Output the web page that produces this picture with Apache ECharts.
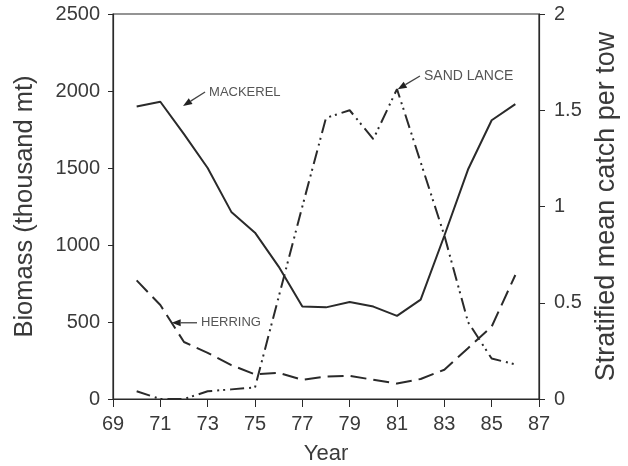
<!DOCTYPE html>
<html><head><meta charset="utf-8">
<script src="https://cdn.jsdelivr.net/npm/echarts@6/dist/echarts.min.js"></script>
<style>html,body{margin:0;padding:0;background:#fff}#c{width:628px;height:466px}</style>
</head><body><div id="c"></div>
<script>
const years = [70,71,72,73,74,75,76,77,78,79,80,81,82,83,84,85,86];
const mackerel = [1900,1930,1720,1500,1215,1080,860,600,595,630,600,540,645,1060,1490,1810,1915];
const herring = [770,610,370,300,220,160,170,125,145,150,125,100,130,190,330,470,805];
const sandLance = [0.04,0.0,0.0,0.04,0.05,0.06,0.53,1.0,1.46,1.5,1.35,1.61,1.23,0.85,0.4,0.21,0.18];
const xTicks = [69,71,73,75,77,79,81,83,85,87];
const leftTicks = [0,500,1000,1500,2000,2500];
const rightTicks = [0,0.5,1,1.5,2];
// annotation anchors in data space
const annotations = [
  {text:'MACKEREL', tip:[71.96,1903], tail:[72.89,1994], axis:0, size:13},
  {text:'SAND LANCE', tip:[81.03,1.609], tail:[81.97,1.678], axis:1, size:14},
  {text:'HERRING', tip:[71.48,495], tail:[72.55,495], axis:0, size:13}
];

const chart = echarts.init(document.getElementById('c'), null, {renderer:'canvas'});
const txt = '#3a3a3a', ln = '#2a2a2a';
const font = 'Liberation Sans, Arial, sans-serif';
function pairs(v){ return years.map((y,i)=>[y, v[i]]); }
chart.setOption({
  animation:false,
  grid:{left:113, right:89, top:14, bottom:67, show:true, borderColor:ln, borderWidth:1.2,
        containLabel:false, outerBoundsMode:'none'},
  xAxis:{type:'value', min:xTicks[0], max:xTicks[xTicks.length-1], interval:2,
    name:'Year', nameLocation:'middle', nameGap:44,
    nameTextStyle:{fontSize:22, color:txt, fontFamily:font},
    axisLine:{lineStyle:{color:ln, width:1.2}}, axisTick:{show:true, length:8, lineStyle:{color:ln}},
    axisLabel:{fontSize:20, color:txt, fontFamily:font, margin:15}, splitLine:{show:false}},
  yAxis:[
    {type:'value', min:leftTicks[0], max:leftTicks[leftTicks.length-1], interval:500,
     name:'Biomass (thousand mt)', nameLocation:'middle', nameGap:75,
     nameTextStyle:{fontSize:25.5, color:txt, fontFamily:font},
     axisLine:{show:true, lineStyle:{color:ln, width:1.2}}, axisTick:{show:true, length:5, lineStyle:{color:ln}},
     axisLabel:{fontSize:20, color:txt, fontFamily:font, margin:13, formatter:v=>String(v)}, splitLine:{show:false}},
    {type:'value', min:rightTicks[0], max:rightTicks[rightTicks.length-1], interval:0.5, position:'right',
     name:'Stratified mean catch per tow', nameLocation:'middle', nameGap:54,
     nameTextStyle:{fontSize:27, color:txt, fontFamily:font},
     axisLine:{show:true, lineStyle:{color:ln, width:1.2}}, axisTick:{show:true, length:6, lineStyle:{color:ln}},
     axisLabel:{fontSize:20, color:txt, fontFamily:font, margin:15, formatter:v=>String(v)}, splitLine:{show:false}}
  ],
  series:[
    {name:'Mackerel', type:'line', data:pairs(mackerel), showSymbol:false, symbol:'none',
     lineStyle:{color:ln, width:2, type:'solid'}},
    {name:'Herring', type:'line', data:pairs(herring), showSymbol:false, symbol:'none',
     lineStyle:{color:ln, width:2, type:[16,7]}},
    {name:'Sand lance', type:'line', yAxisIndex:1, data:pairs(sandLance), showSymbol:false, symbol:'none',
     lineStyle:{color:ln, width:2, type:[14,5,2,4,2,5]}}
  ]
});

const g = [];
annotations.forEach(a=>{
  const tip = chart.convertToPixel({xAxisIndex:0, yAxisIndex:a.axis}, a.tip);
  const tail = chart.convertToPixel({xAxisIndex:0, yAxisIndex:a.axis}, a.tail);
  const dx = tip[0]-tail[0], dy = tip[1]-tail[1], L = Math.hypot(dx,dy);
  const ux = dx/L, uy = dy/L, hl = 9, hw = 3.5;
  const bx = tip[0]-ux*hl, by = tip[1]-uy*hl;
  g.push({type:'line', shape:{x1:tail[0], y1:tail[1], x2:bx, y2:by}, style:{stroke:'#444', lineWidth:1.3}});
  g.push({type:'polygon', shape:{points:[[tip[0],tip[1]],[bx-uy*hw,by+ux*hw],[bx+uy*hw,by-ux*hw]]}, style:{fill:'#222'}});
  g.push({type:'text', x:tail[0]+4, y:tail[1], style:{text:a.text, fill:'#555', font:a.size+'px '+font, verticalAlign:'middle', align:'left'}});
});
chart.setOption({graphic:g});
</script></body></html>
